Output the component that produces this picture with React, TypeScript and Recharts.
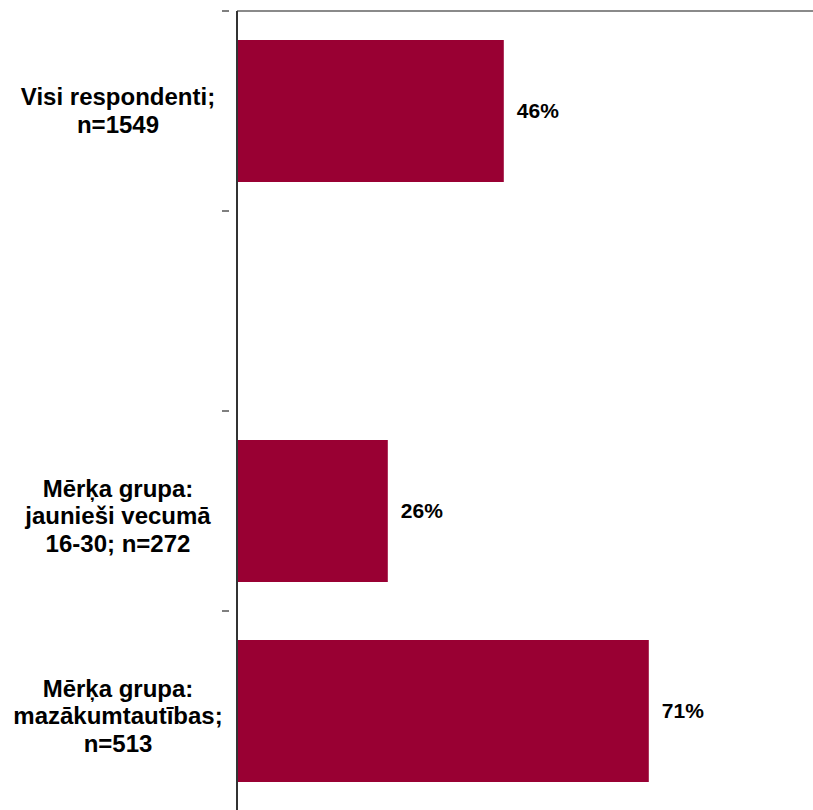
import React from "react";
import { BarChart, Bar, XAxis, YAxis, LabelList } from "recharts";

// category labels, one array of lines per group (the empty slot is a gap in the source chart)
const categoryLines: string[][] = [
  ["Visi respondenti;", "n=1549"],
  [],
  ["Mērķa grupa:", "jaunieši vecumā", "16-30; n=272"],
  ["Mērķa grupa:", "mazākumtautības;", "n=513"],
];
const categoryKeys = ["all", "gap", "youth", "minorities"];
const shares: (number | null)[] = [46, null, 26, 71];

const data = categoryKeys.map((key, i) => ({
  key,
  lines: categoryLines[i],
  value: shares[i],
}));

const FONT = '"Liberation Sans", Arial, sans-serif';

function CategoryTick(props: any) {
  const { x, y, payload, index } = props;
  const lines = categoryLines[index] || [];
  const half = payload?.offset ?? 100;
  const lh = 27.5;
  const shift = lines.length > 2 ? 13 : 8;
  const first = y - ((lines.length - 1) / 2) * lh + shift;
  return (
    <g>
      <line x1={x - 7} x2={x} y1={y - half} y2={y - half} stroke="#555" strokeWidth={1.5} />
      <text textAnchor="middle" fontFamily={FONT} fontWeight="bold" fontSize={24} fill="#000">
        {lines.map((l, i) => (
          <tspan key={i} x={118} y={first + i * lh}>
            {l}
          </tspan>
        ))}
      </text>
    </g>
  );
}

export default function App() {
  return (
    <div style={{ position: "absolute", left: 0, top: 0, width: 813, height: 810, overflow: "hidden", background: "#fff" }}>
      <BarChart
        layout="vertical"
        width={817}
        height={811}
        data={data}
        margin={{ top: 10, right: 0, bottom: 0, left: 0 }}
      >
        <XAxis
          type="number"
          orientation="top"
          domain={[0, 100]}
          height={1}
          tick={false}
          tickLine={false}
          axisLine={{ stroke: "#8a8a8a", strokeWidth: 2 }}
        />
        <YAxis
          type="category"
          dataKey="key"
          width={237}
          tickLine={false}
          axisLine={{ stroke: "#333", strokeWidth: 2 }}
          tick={<CategoryTick />}
          interval={0}
        />
        <Bar dataKey="value" fill="#990033" barSize={142} isAnimationActive={false}>
          <LabelList
            dataKey="value"
            position="right"
            offset={13}
            formatter={(v: any) => (v == null ? "" : `${v}%`)}
            style={{ fontFamily: FONT, fontWeight: "bold", fontSize: 21, fill: "#000" }}
          />
        </Bar>
      </BarChart>
    </div>
  );
}
